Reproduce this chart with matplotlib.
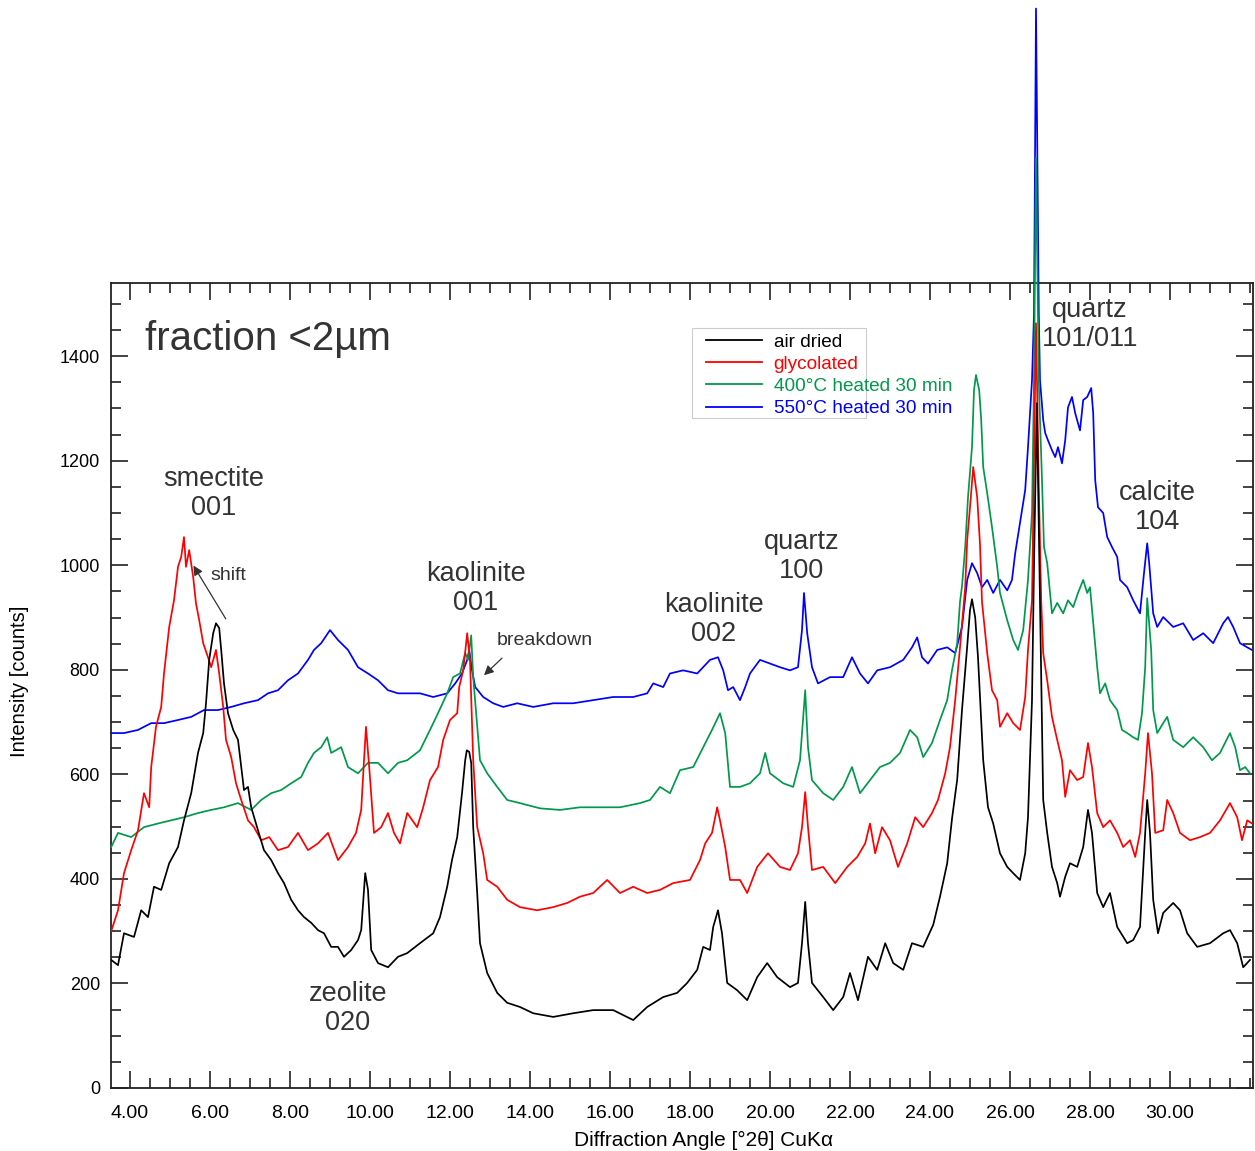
import matplotlib
matplotlib.use("Agg")
import matplotlib.pyplot as plt
from matplotlib.patches import Rectangle
from matplotlib.lines import Line2D

plt.rcParams['font.family'] = ['Liberation Sans', 'DejaVu Sans']

# ---------------- data ----------------
air_x = [3.53, 3.7, 3.85, 4.1, 4.28, 4.45, 4.6, 4.78, 4.98, 5.2, 5.35, 5.53, 5.7, 5.83, 5.9, 5.98,
         6.08, 6.15, 6.23, 6.28, 6.35, 6.45, 6.58, 6.7, 6.78, 6.85, 6.95, 7.03, 7.2, 7.35, 7.53, 7.7,
         7.85, 8.03, 8.2, 8.35, 8.53, 8.7, 8.85, 9.03, 9.2, 9.35, 9.53, 9.7, 9.78, 9.88, 9.95, 10.03,
         10.2, 10.45, 10.7, 10.93, 11.25, 11.58, 11.75, 11.93, 12.05, 12.18, 12.3, 12.38, 12.42, 12.48,
         12.53, 12.58, 12.68, 12.75, 12.93, 13.18, 13.43, 13.75, 14.08, 14.58, 15.08, 15.58, 16.08,
         16.58, 16.93, 17.33, 17.68, 17.93, 18.18, 18.33, 18.5, 18.58, 18.7, 18.8, 18.93, 19.18, 19.43,
         19.68, 19.93, 20.18, 20.5, 20.7, 20.8, 20.88, 20.95, 21.05, 21.33, 21.58, 21.83, 22.0, 22.2,
         22.45, 22.68, 22.88, 23.08, 23.33, 23.55, 23.83, 24.08, 24.25, 24.43, 24.55, 24.68, 24.8,
         24.93, 25.0, 25.05, 25.13, 25.2, 25.33, 25.45, 25.58, 25.75, 25.93, 26.08, 26.25, 26.38,
         26.45, 26.55, 26.6, 26.67, 26.75, 26.83, 26.93, 27.05, 27.18, 27.25, 27.38, 27.5, 27.68,
         27.83, 27.95, 28.05, 28.18, 28.33, 28.5, 28.68, 28.93, 29.08, 29.25, 29.38, 29.43, 29.5,
         29.58, 29.7, 29.83, 30.08, 30.25, 30.43, 30.68, 31.0, 31.33, 31.5, 31.68, 31.83, 32.0]
air_y = [245, 235, 296, 289, 340, 327, 385, 379, 430, 461, 512, 564, 641, 679, 736, 819,
         870, 889, 880, 838, 774, 717, 685, 666, 614, 570, 576, 537, 493, 455, 436, 411,
         392, 360, 340, 327, 316, 302, 296, 270, 270, 251, 264, 283, 302, 411, 379, 264,
         239, 231, 251, 258, 277, 296, 327, 385, 436, 480, 564, 627, 646, 643,
         622, 499, 373, 277, 220, 182, 163, 155, 143, 136, 143, 149, 149,
         130, 155, 174, 182, 201, 226, 270, 264, 308, 340, 296, 201, 187, 168,
         212, 239, 212, 193, 201, 277, 356, 277, 201, 174, 149, 174, 220, 168,
         251, 226, 277, 239, 226, 277, 270, 312, 366, 430, 515, 590, 723,
         845, 914, 935, 900, 824, 627, 537, 506, 449, 423, 411, 398, 449,
         518, 742, 1000, 1310, 933, 551, 488, 423, 392, 366, 404, 430, 423,
         461, 532, 488, 373, 346, 373, 308, 277, 283, 308, 488, 551, 488,
         360, 296, 335, 354, 340, 296, 270, 277, 296, 302, 277, 231, 245]

gly_x = [3.53, 3.7, 3.85, 4.03, 4.2, 4.35, 4.48, 4.53, 4.65, 4.78, 4.85, 4.98, 5.1, 5.2, 5.28, 5.35,
         5.4, 5.48, 5.58, 5.65, 5.73, 5.83, 5.95, 6.03, 6.15, 6.23, 6.33, 6.4, 6.53, 6.65, 6.78, 6.95,
         7.1, 7.28, 7.48, 7.7, 7.95, 8.2, 8.45, 8.7, 8.95, 9.2, 9.45, 9.65, 9.78, 9.85, 9.9, 9.98,
         10.1, 10.28, 10.45, 10.6, 10.75, 10.93, 11.18, 11.33, 11.5, 11.7, 11.83, 12.0, 12.18, 12.23,
         12.33, 12.43, 12.5, 12.58, 12.68, 12.83, 12.93, 13.18, 13.43, 13.75, 14.18, 14.58, 14.93,
         15.25, 15.58, 15.93, 16.25, 16.58, 16.93, 17.25, 17.58, 18.0, 18.25, 18.38, 18.55, 18.68,
         18.75, 18.88, 19.0, 19.25, 19.43, 19.68, 19.95, 20.25, 20.5, 20.7, 20.8, 20.88, 20.95, 21.05,
         21.33, 21.63, 21.93, 22.18, 22.38, 22.5, 22.63, 22.8, 23.0, 23.2, 23.43, 23.63, 23.83, 24.05,
         24.2, 24.38, 24.5, 24.63, 24.75, 24.88, 24.93, 25.0, 25.08, 25.18, 25.25, 25.3, 25.43, 25.55,
         25.68, 25.75, 25.93, 26.08, 26.25, 26.38, 26.45, 26.55, 26.6, 26.65, 26.72, 26.78, 26.83,
         26.93, 27.05, 27.18, 27.3, 27.38, 27.5, 27.68, 27.83, 27.95, 28.05, 28.18, 28.33, 28.5,
         28.68, 28.83, 29.0, 29.13, 29.25, 29.38, 29.45, 29.55, 29.63, 29.83, 29.93, 30.08, 30.25,
         30.5, 30.75, 31.0, 31.25, 31.5, 31.68, 31.8, 31.93, 32.05]
gly_y = [300, 340, 411, 455, 493, 564, 537, 614, 691, 729, 793, 882, 933, 997, 1016, 1054,
         997, 1029, 977, 927, 895, 851, 824, 805, 838, 793, 729, 666, 633, 583, 551, 512,
         499, 474, 480, 455, 461, 488, 455, 468, 488, 436, 461, 488, 532, 627, 691, 614,
         488, 499, 526, 488, 468, 526, 499, 537, 589, 614, 666, 704, 717, 767,
         799, 870, 819, 627, 499, 449, 398, 385, 360, 346, 340, 346, 354,
         366, 373, 398, 373, 385, 373, 379, 392, 398, 436, 468, 488, 537,
         512, 461, 398, 398, 373, 423, 449, 423, 417, 449, 499, 566, 499, 417,
         423, 392, 423, 442, 468, 506, 449, 499, 474, 423, 468, 518, 499, 526,
         551, 602, 652, 742, 843, 958, 1048, 1111, 1188, 1130, 1040, 930, 832, 761,
         742, 691, 717, 698, 685, 748, 838, 933, 1200, 1463, 1150, 933, 832,
         780, 710, 666, 627, 557, 608, 589, 595, 660, 614, 526, 499, 512,
         488, 461, 474, 442, 488, 602, 679, 602, 488, 493, 551, 526, 488,
         474, 480, 488, 512, 545, 518, 474, 512, 506]

h400_x = [3.53, 3.7, 4.03, 4.35, 4.7, 5.03, 5.35, 5.7, 6.03, 6.35, 6.7, 7.03, 7.28, 7.53, 7.78, 8.03,
          8.28, 8.45, 8.6, 8.78, 8.93, 9.03, 9.28, 9.45, 9.7, 9.95, 10.2, 10.45, 10.7, 10.93, 11.25,
          11.5, 11.7, 11.93, 12.08, 12.25, 12.38, 12.45, 12.53, 12.58, 12.68, 12.75, 12.93, 13.18,
          13.43, 13.75, 14.25, 14.75, 15.25, 15.75, 16.25, 16.75, 17.0, 17.25, 17.5, 17.75, 18.08,
          18.33, 18.55, 18.75, 18.88, 19.0, 19.25, 19.5, 19.75, 19.88, 20.0, 20.33, 20.58, 20.75,
          20.88, 20.95, 21.05, 21.33, 21.58, 21.83, 22.05, 22.25, 22.5, 22.75, 23.0, 23.25, 23.5,
          23.68, 23.83, 24.05, 24.25, 24.43, 24.55, 24.68, 24.75, 24.8, 24.88, 24.95, 25.05, 25.1,
          25.15, 25.23, 25.28, 25.33, 25.43, 25.55, 25.68, 25.75, 25.93, 26.08, 26.2, 26.33, 26.45,
          26.55, 26.6, 26.65, 26.72, 26.8, 26.85, 26.93, 27.05, 27.18, 27.33, 27.45, 27.58, 27.7,
          27.83, 27.93, 28.0, 28.08, 28.18, 28.25, 28.38, 28.5, 28.68, 28.8, 28.93, 29.08, 29.2,
          29.3, 29.38, 29.43, 29.53, 29.58, 29.68, 29.83, 29.93, 30.08, 30.33, 30.58, 30.83, 31.05,
          31.25, 31.5, 31.63, 31.75, 31.88, 32.0]
h400_y = [461, 488, 480, 499, 506, 512, 518, 526, 532, 537, 545, 532, 551, 564, 570, 583,
          595, 622, 641, 652, 671, 641, 652, 614, 602, 622, 622, 602, 622, 627, 646,
          685, 717, 755, 786, 793, 832, 819, 866, 786, 691, 627, 602, 576,
          551, 545, 535, 532, 537, 537, 537, 545, 551, 576, 564, 608, 614,
          652, 685, 717, 679, 576, 576, 583, 602, 641, 602, 583, 576, 627,
          761, 652, 589, 564, 551, 576, 614, 564, 589, 614, 622, 641, 685,
          671, 633, 660, 704, 742, 799, 851, 930, 960, 1035, 1130, 1226, 1335,
          1364, 1335, 1278, 1188, 1138, 1073, 997, 947, 895, 857, 838, 876, 972,
          1100, 1354, 1780, 1350, 1163, 1035, 1004, 908, 928, 908, 933, 920, 947,
          972, 947, 958, 890, 805, 755, 774, 742, 723, 685, 679, 671, 666,
          717, 805, 937, 838, 723, 679, 698, 710, 666, 652, 671, 652, 627,
          641, 679, 652, 608, 614, 602]

h550_x = [3.53, 3.85, 4.2, 4.53, 4.85, 5.2, 5.53, 5.85, 6.2, 6.53, 6.85, 7.2, 7.45, 7.7, 7.95, 8.2,
          8.45, 8.6, 8.78, 9.0, 9.2, 9.45, 9.7, 9.95, 10.2, 10.45, 10.7, 10.93, 11.25, 11.58, 11.93,
          12.13, 12.3, 12.43, 12.48, 12.55, 12.63, 12.83, 13.08, 13.33, 13.68, 14.08, 14.58, 15.08,
          15.58, 16.08, 16.58, 16.93, 17.08, 17.33, 17.5, 17.83, 18.18, 18.5, 18.7, 18.83, 18.95,
          19.08, 19.25, 19.38, 19.5, 19.75, 20.0, 20.25, 20.5, 20.7, 20.8, 20.85, 20.93, 21.05, 21.2,
          21.5, 21.83, 22.05, 22.25, 22.45, 22.68, 23.0, 23.33, 23.55, 23.68, 23.8, 23.95, 24.18,
          24.43, 24.63, 24.8, 24.93, 25.05, 25.18, 25.3, 25.43, 25.58, 25.75, 25.93, 26.05, 26.13,
          26.25, 26.38, 26.45, 26.55, 26.6, 26.65, 26.72, 26.75, 26.83, 26.88, 26.95, 27.05, 27.13,
          27.2, 27.3, 27.38, 27.45, 27.55, 27.63, 27.75, 27.83, 27.93, 28.03, 28.08, 28.13, 28.2,
          28.33, 28.43, 28.55, 28.68, 28.75, 28.93, 29.08, 29.25, 29.35, 29.43, 29.48, 29.58, 29.68,
          29.83, 30.08, 30.33, 30.58, 30.83, 31.08, 31.33, 31.45, 31.58, 31.75, 31.93, 32.05]
h550_y = [679, 679, 685, 698, 698, 704, 710, 723, 723, 729, 736, 742, 755, 761, 780, 793,
          819, 838, 851, 876, 857, 838, 805, 793, 780, 761, 755, 755, 755, 748, 755,
          774, 793, 819, 838, 799, 767, 748, 736, 729, 736, 729, 736, 736,
          742, 748, 748, 755, 774, 767, 793, 799, 793, 819, 824, 799, 761,
          767, 742, 767, 793, 819, 812, 805, 799, 805, 876, 947, 870, 805, 774,
          786, 786, 824, 793, 774, 799, 805, 819, 843, 862, 824, 812, 838,
          843, 832, 882, 972, 1004, 985, 958, 972, 947, 972, 952, 972, 1023,
          1081, 1144, 1226, 1354, 1482, 2065, 1480, 1354, 1278, 1253, 1239, 1220, 1207,
          1226, 1195, 1239, 1302, 1322, 1291, 1258, 1316, 1322, 1339, 1291, 1163, 1111,
          1100, 1054, 1035, 1016, 972, 958, 933, 908, 985, 1042, 1004, 908, 882,
          901, 882, 889, 857, 870, 851, 889, 901, 882, 851, 843, 838]

series_labels = ["air dried", "glycolated", "400°C heated 30 min", "550°C heated 30 min"]
series_colors = ["#000000", "#ff0000", "#00994c", "#0000ff"]

x_ticks = [4, 6, 8, 10, 12, 14, 16, 18, 20, 22, 24, 26, 28, 30]
y_ticks = [0, 200, 400, 600, 800, 1000, 1200, 1400]

annotations = [
    ("smectite\n001", 6.08, 1138),
    ("kaolinite\n001", 12.65, 956),
    ("zeolite\n020", 9.45, 153),
    ("kaolinite\n002", 18.6, 897),
    ("quartz\n100", 20.8, 1017),
    ("quartz\n101/011", 28.0, 1461),
    ("calcite\n104", 29.68, 1111),
]

# ---------------- figure ----------------
fig = plt.figure(figsize=(12.55, 11.51), dpi=100)
ax = fig.add_axes([111 / 1255, 1 - 1088 / 1151, 1142 / 1255, 805 / 1151])

lw = 1.25
ax.plot(h550_x, h550_y, color=series_colors[3], lw=lw, clip_on=False, zorder=2)
ax.plot(h400_x, h400_y, color=series_colors[2], lw=lw, clip_on=False, zorder=3)
ax.plot(gly_x, gly_y, color=series_colors[1], lw=lw, zorder=4)
ax.plot(air_x, air_y, color=series_colors[0], lw=lw, zorder=5)

ax.set_xlim(3.525, 32.075)
ax.set_ylim(0, 1540)

ax.set_xticks(x_ticks)
ax.set_xticklabels([f"{v:.2f}" for v in x_ticks], fontsize=14)
ax.set_xticks([v / 2 for v in range(8, 65)], minor=True)
ax.set_yticks(y_ticks)
ax.set_yticklabels([str(v) for v in y_ticks], fontsize=13)
ax.set_yticks(list(range(0, 1541, 50)), minor=True)

ax.tick_params(axis='both', which='both', direction='in', top=True, right=True, width=1.2,
               color='#222222')
ax.tick_params(axis='both', which='major', length=12.5)
ax.tick_params(axis='both', which='minor', length=7)
ax.tick_params(axis='x', which='major', pad=12)
ax.tick_params(axis='y', which='major', pad=8)
for sp in ax.spines.values():
    sp.set_linewidth(1.3)
    sp.set_color('#222222')

ax.set_xlabel("Diffraction Angle [°2θ] CuKα", fontsize=15)
ax.xaxis.set_label_coords((704 - 111) / 1142, -(1140 - 1088) / 805)
ax.xaxis.label.set_va('center')
ax.set_ylabel("Intensity [counts]", fontsize=14.5)
ax.yaxis.set_label_coords(-(111 - 20) / 1142, (1088 - 681) / 805)
ax.yaxis.label.set_va('center')

# title text inside plot
ax.text(0.03, 0.93, "fraction <2µm", transform=ax.transAxes, fontsize=29,
        color='#333333', ha='left', va='center')

for txt, xa, ya in annotations:
    ax.text(xa, ya, txt, fontsize=19.5, color='#333333', ha='center', va='center',
            linespacing=1.15, multialignment='center', zorder=6)

# arrows
ax.annotate("", xy=(5.55, 1004), xytext=(6.43, 893),
            arrowprops=dict(arrowstyle='-|>', color='#333333', lw=0.9, mutation_scale=14))
ax.text(6.0, 981, "shift", fontsize=14, color='#333333', ha='left', va='center')
ax.annotate("", xy=(12.8, 786), xytext=(13.35, 826),
            arrowprops=dict(arrowstyle='-|>', color='#333333', lw=0.9, mutation_scale=14))
ax.text(13.17, 857, "breakdown", fontsize=14, color='#333333', ha='left', va='center')

# legend
handles = [Line2D([], [], color=c, lw=1.3) for c in series_colors]
leg = ax.legend(handles, series_labels, loc='upper left', bbox_to_anchor=(0.514, 0.947),
                frameon=False, fontsize=13.7, handlelength=2.94, handletextpad=0.64,
                labelspacing=0.26, borderaxespad=0)
for t, c in zip(leg.get_texts(), series_colors):
    t.set_color(c)
ax.add_patch(Rectangle((0.509, 0.832), 0.152, 0.112, transform=ax.transAxes,
                       fill=False, edgecolor='#cccccc', lw=0.8, zorder=1))

fig.savefig("out.png", dpi=100)
